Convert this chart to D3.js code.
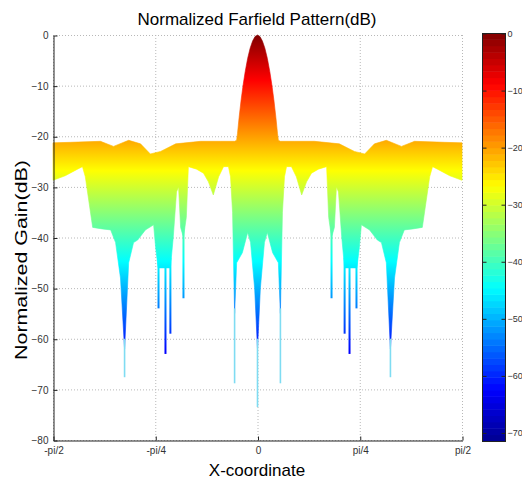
<!DOCTYPE html>
<html>
<head>
<meta charset="utf-8">
<script src="https://cdn.jsdelivr.net/npm/d3@7/dist/d3.min.js"></script>
<style>
  body { margin: 0; background: #fff; }
  text { font-family: "Liberation Sans", Arial, Helvetica, sans-serif; }
</style>
</head>
<body>
<svg id="chart" width="522" height="479"></svg>
<script>
// x values are in units of pi (so -0.5 is -pi/2)
const xTicks = [-0.5, -0.25, 0, 0.25, 0.5];
const xTickLabels = ['-pi/2', '-pi/4', '0', 'pi/4', 'pi/2'];
const yTicks = [0, -10, -20, -30, -40, -50, -60, -70, -80];
const cbarTicks = [0, -10, -20, -30, -40, -50, -60, -70];

// upper envelope of the surface seen from the side
const upperX = [-0.5, -0.457, -0.384, -0.352, -0.315, -0.286, -0.262, -0.237, -0.2, -0.139, -0.09, -0.056,
  -0.051, -0.049, -0.045, -0.04, -0.035, -0.03, -0.024, -0.018, -0.012, -0.006, 0,
  0.006, 0.012, 0.018, 0.024, 0.03, 0.035, 0.04, 0.045, 0.049, 0.051,
  0.056, 0.09, 0.139, 0.2, 0.237, 0.262, 0.286, 0.315, 0.352, 0.384, 0.457, 0.5];
const upperDb = [-21.3, -21.2, -21.0, -22.0, -20.8, -21.5, -23.5, -23.0, -21.5, -21.0, -21.0, -21.0,
  -20.8, -19.5, -16.3, -12.8, -9.8, -7.2, -4.6, -2.6, -1.2, -0.3, 0,
  -0.3, -1.2, -2.6, -4.6, -7.2, -9.8, -12.8, -16.3, -19.5, -20.8,
  -21.0, -21.0, -21.0, -21.5, -23.0, -23.5, -21.5, -20.8, -22.0, -21.0, -21.2, -21.3];

// lower envelope
const lowerX = [-0.5, -0.47, -0.44, -0.428, -0.421, -0.403, -0.38, -0.359, -0.347, -0.335, -0.325, -0.315,
  -0.303, -0.293, -0.274, -0.254, -0.249, -0.243, -0.213, -0.206, -0.198, -0.193, -0.188, -0.181,
  -0.174, -0.169, -0.149, -0.132, -0.12, -0.108, -0.095, -0.083, -0.071, -0.066, -0.061, -0.056,
  -0.051, -0.037, -0.024, -0.017, -0.007, 0,
  0.007, 0.017, 0.024, 0.037, 0.051,
  0.056, 0.061, 0.066, 0.071, 0.083, 0.095, 0.108, 0.12, 0.132, 0.149, 0.169, 0.174,
  0.181, 0.188, 0.193, 0.198, 0.206, 0.213, 0.243, 0.249, 0.254, 0.274, 0.293, 0.303,
  0.315, 0.325, 0.335, 0.347, 0.359, 0.38, 0.403, 0.421, 0.428, 0.44, 0.47, 0.5];
const lowerDb = [-28.7, -27.8, -26.5, -26.0, -28.0, -38.0, -38.3, -38.5, -41.0, -48.0, -62.0, -45.0,
  -41.0, -40.5, -38.5, -37.5, -42.0, -46.0, -46.0, -40.0, -31.0, -30.0, -38.0, -40.0,
  -36.0, -26.0, -26.5, -27.3, -29.0, -31.6, -28.0, -26.0, -26.0, -28.0, -35.0, -55.0,
  -45.0, -43.0, -39.0, -41.0, -50.0, -62.0,
  -50.0, -41.0, -39.0, -43.0, -45.0,
  -55.0, -35.0, -28.0, -26.0, -26.0, -28.0, -31.6, -29.0, -27.3, -26.5, -26.0, -36.0,
  -40.0, -38.0, -30.0, -31.0, -40.0, -46.0, -46.0, -42.0, -37.5, -38.5, -40.5, -41.0,
  -45.0, -62.0, -48.0, -41.0, -38.5, -38.3, -38.0, -28.0, -26.0, -26.5, -27.8, -28.7];

// narrow nulls hanging below the filled part
const spikeX = [-0.242, -0.225, -0.213, -0.181, 0.181, 0.213, 0.225, 0.242];
const spikeTop = [-44, -44, -44, -38, -38, -44, -44, -44];
const spikeDb = [-54, -63, -59, -52, -52, -59, -63, -54];
const tailX = [-0.325, -0.056, 0, 0.056, 0.325];
const tailTop = [-60, -54, -60, -54, -60];
const tailDb = [-67.6, -68.8, -73.5, -68.8, -67.6];

// jet colormap, colour limits
const cMin = -71.5, cMax = 0;
const jetPos = [0, 0.125, 0.375, 0.625, 0.875, 1];
const jetColors = ['#000090', '#0000ff', '#00ffff', '#ffff00', '#ff0000', '#800000'];

const svg = d3.select('#chart');
const plot = { left: 53, right: 462, top: 35, bottom: 440 };

const x = d3.scaleLinear().domain([-0.5, 0.5]).range([plot.left, plot.right]);
const y = d3.scaleLinear().domain([-80, 0]).range([plot.bottom, plot.top]);
const color = d3.scaleLinear()
  .domain(jetPos.map(t => cMin + t * (cMax - cMin)))
  .range(jetColors);

// gradient follows the dB value (vertical position)
const grad = svg.append('defs').append('linearGradient')
  .attr('id', 'jet')
  .attr('gradientUnits', 'userSpaceOnUse')
  .attr('x1', 0).attr('x2', 0)
  .attr('y1', y(cMin)).attr('y2', y(cMax));
jetPos.forEach((t, i) => {
  grad.append('stop').attr('offset', t).attr('stop-color', jetColors[i]);
});

// grid
const grid = svg.append('g').attr('stroke', '#b8b8b8').attr('stroke-dasharray', '1,2').attr('stroke-width', 1);
yTicks.forEach(v => {
  grid.append('line').attr('x1', plot.left).attr('x2', plot.right)
    .attr('y1', y(v) + 0.5).attr('y2', y(v) + 0.5);
});
xTicks.forEach(v => {
  grid.append('line').attr('x1', x(v) + 0.5).attr('x2', x(v) + 0.5)
    .attr('y1', plot.top).attr('y2', plot.bottom);
});

// surface silhouette
const upperPts = upperX.map((v, i) => [x(v), y(upperDb[i])]);
const lowerPts = lowerX.map((v, i) => [x(v), y(lowerDb[i])]).reverse();
svg.append('path')
  .attr('d', d3.line()(upperPts.concat(lowerPts)) + 'Z')
  .attr('fill', 'url(#jet)')
  .attr('stroke', 'url(#jet)')
  .attr('stroke-width', 0.6);

svg.append('g').selectAll('line')
  .data(spikeX)
  .enter().append('line')
  .attr('x1', d => x(d)).attr('x2', d => x(d))
  .attr('y1', (d, i) => y(spikeTop[i]))
  .attr('y2', (d, i) => y(spikeDb[i]))
  .attr('stroke', 'url(#jet)')
  .attr('stroke-width', 2);

svg.append('g').selectAll('line')
  .data(tailX)
  .enter().append('line')
  .attr('x1', d => x(d)).attr('x2', d => x(d))
  .attr('y1', (d, i) => y(tailTop[i]))
  .attr('y2', (d, i) => y(tailDb[i]))
  .attr('stroke', '#7fdcf2')
  .attr('stroke-width', 1.6);

// axes
const yAxis = d3.axisLeft(y).tickValues(yTicks).tickSize(-4).tickSizeOuter(0).tickPadding(5);
const gy = svg.append('g').attr('transform', `translate(${plot.left + 0.5},0.5)`).call(yAxis);
const xAxis = d3.axisBottom(x).tickValues(xTicks).tickFormat((d, i) => xTickLabels[i])
  .tickSize(-4).tickSizeOuter(0).tickPadding(6);
const gx = svg.append('g').attr('transform', `translate(0.5,${plot.bottom + 0.5})`).call(xAxis);
[gx, gy].forEach(g => {
  g.selectAll('text').attr('font-size', 10).attr('fill', '#333')
    .attr('font-family', '"Liberation Sans", Arial, sans-serif');
  g.select('.domain').attr('stroke', '#222');
  g.selectAll('.tick line').attr('stroke', '#222');
});

// titles
svg.append('text').attr('x', 257).attr('y', 25).attr('text-anchor', 'middle')
  .attr('font-size', 17).text('Normalized Farfield Pattern(dB)');
svg.append('text').attr('x', 257).attr('y', 476).attr('text-anchor', 'middle')
  .attr('font-size', 17).text('X-coordinate');
svg.append('text').attr('transform', 'translate(27,260) rotate(-90)').attr('text-anchor', 'middle')
  .attr('font-size', 17).attr('textLength', 200).attr('lengthAdjust', 'spacingAndGlyphs')
  .text('Normalized Gain(dB)');

// colorbar
const cb = { left: 482, width: 23, top: 33, bottom: 441 };
const cy = d3.scaleLinear().domain([cMin, cMax]).range([cb.bottom, cb.top]);
const nColors = 64;
const cbLevels = d3.range(nColors).map(i => cMin + (i + 0.5) * (cMax - cMin) / nColors);
const step = (cMax - cMin) / nColors;
svg.append('g').selectAll('rect')
  .data(cbLevels)
  .enter().append('rect')
  .attr('x', cb.left)
  .attr('y', d => cy(d + step / 2))
  .attr('width', cb.width)
  .attr('height', d => cy(d - step / 2) - cy(d + step / 2) + 0.5)
  .attr('fill', d => color(d));
svg.append('rect').attr('x', cb.left + 0.5).attr('y', cb.top + 0.5)
  .attr('width', cb.width).attr('height', cb.bottom - cb.top)
  .attr('fill', 'none').attr('stroke', '#222');
const cbAxis = d3.axisRight(cy).tickValues(cbarTicks).tickSize(-4).tickSizeOuter(0).tickPadding(2);
const gc = svg.append('g').attr('transform', `translate(${cb.left + cb.width + 0.5},0.5)`).call(cbAxis);
gc.select('.domain').remove();
gc.selectAll('text').attr('font-size', 9).attr('fill', '#333')
  .attr('font-family', '"Liberation Sans", Arial, sans-serif');
gc.selectAll('.tick line').attr('stroke', '#222');
gc.selectAll('.tick').append('line')
  .attr('x1', -cb.width).attr('x2', -cb.width + 4).attr('stroke', '#222');
</script>
</body>
</html>
